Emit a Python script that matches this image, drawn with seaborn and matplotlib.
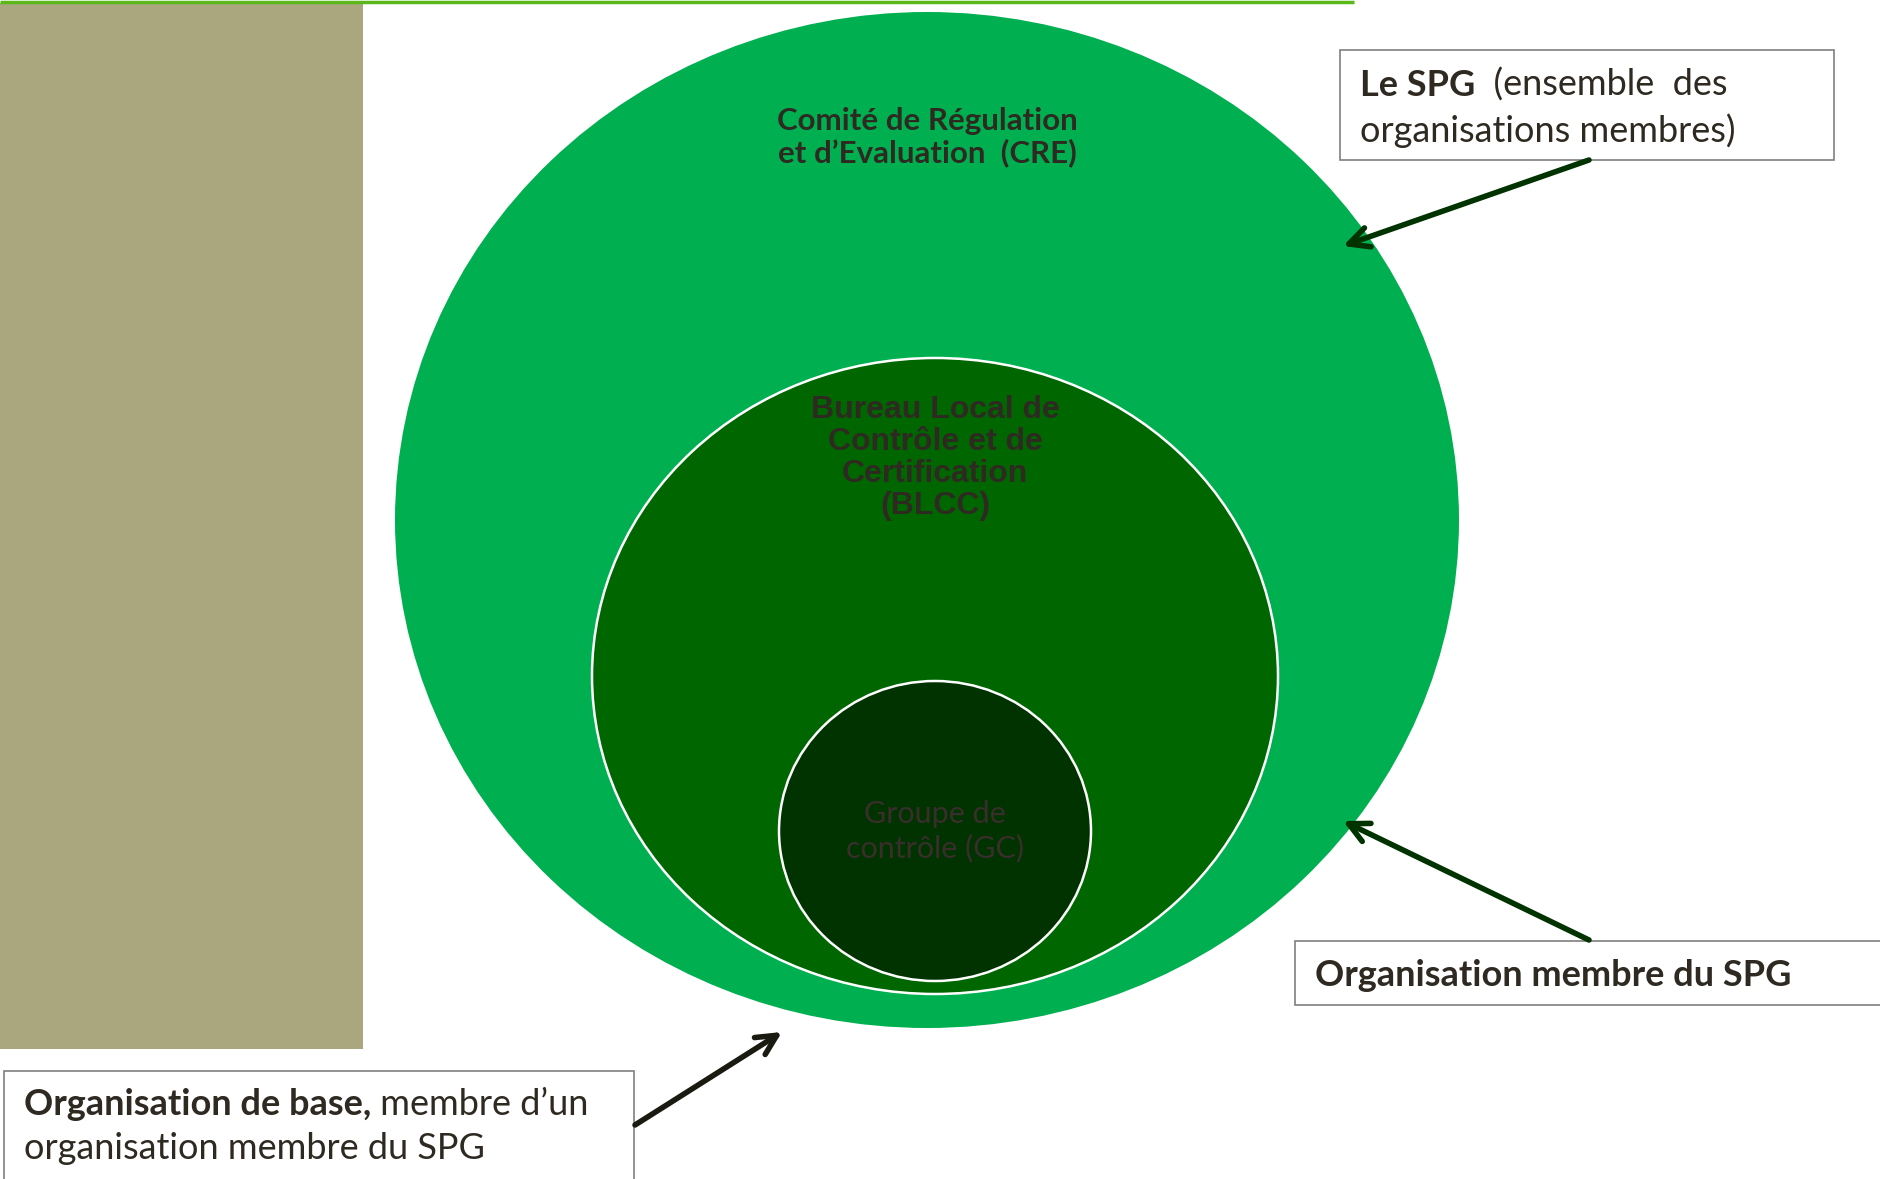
import matplotlib
matplotlib.use("Agg")
import matplotlib.pyplot as plt
from matplotlib.patches import Ellipse, Rectangle
import seaborn as sns

sns.set_theme(style="white")
plt.rcParams['font.family'] = ['Lato', 'DejaVu Sans']

# les trois niveaux (du plus grand au plus petit)
niveaux = ["CRE", "BLCC", "GC"]
niveau_labels = [
    "Comité de Régulation\net d’Evaluation  (CRE)",
    "Bureau Local de\nContrôle et de\nCertification\n(BLCC)",
    "Groupe de\ncontrôle (GC)",
]
niveau_couleurs = ["#00AF50", "#006600", "#003300"]

# cadres d'annotation : partie en gras, suite normale
cadre_gras = ["Le SPG", "Organisation membre du SPG", "Organisation de base,"]
cadre_suite = ["  (ensemble  des\norganisations membres)", "", " membre d’un\norganisation membre du SPG"]

fig = plt.figure(figsize=(18.8, 11.79), dpi=100)
ax = fig.add_axes([0, 0, 1, 1])
ax.set_xlim(0, 1880)
ax.set_ylim(1179, 0)
ax.axis("off")

# bande de gauche et ligne verte en haut
ax.add_patch(Rectangle((0, 3), 363, 1046, color="#AAA77F", lw=0))
ax.plot([0, 1354], [1.5, 1.5], color="#5BB81A", lw=2.5, solid_capstyle="butt")

# ellipses imbriquées
geom = [((927, 520), 1064, 1016), ((935, 676), 686, 636), ((935, 831), 312, 300)]
for (c, w, h), col, i in zip(geom, niveau_couleurs, range(3)):
    ec = "none" if i == 0 else "white"
    ax.add_patch(Ellipse(c, w, h, facecolor=col, edgecolor=ec, lw=1.8))

ax.text(927, 137, niveau_labels[0], ha="center", va="center", fontsize=22.5,
        fontweight="bold", color="#2E2A22", linespacing=1.15)
ax.text(935, 458, niveau_labels[1], ha="center", va="center", fontsize=23,
        fontweight="bold", color="#2E2A22", family="Liberation Sans", linespacing=1.08)
ax.text(935, 831, niveau_labels[2], ha="center", va="center", fontsize=22,
        color="#3A2E2C", linespacing=1.25)

# cadres
boites = [(1340, 50, 494, 110), (1295, 941, 590, 64), (4, 1071, 630, 115)]
pos_texte = [(1360, 69), (1315, 959), (24, 1088)]
for (x, y, w, h) in boites:
    ax.add_patch(Rectangle((x, y), w, h, facecolor="white", edgecolor="#7F7F7F", lw=1.2))

for (tx, ty), g, s in zip(pos_texte, cadre_gras, cadre_suite):
    lines = s.split("\n")
    t = ax.text(tx, ty, g, ha="left", va="top", fontsize=26, fontweight="bold",
                color="#2E2A22")
    if lines[0]:
        ax.annotate(lines[0], xy=(1, 0), xycoords=t, ha="left", va="bottom",
                    fontsize=26, color="#2E2A22")
    if len(lines) > 1:
        ax.text(tx, ty + 44, lines[1], ha="left", va="top", fontsize=26, color="#2E2A22")

# flèches
fleches = [((1589, 160), (1343, 246), "#003300"),
           ((1589, 940), (1343, 821), "#003300"),
           ((635, 1125), (782, 1032), "#1A1A10")]
for start, end, col in fleches:
    ax.annotate("", xy=end, xytext=start,
                arrowprops=dict(arrowstyle="->,head_length=1.2,head_width=0.6",
                                color=col, lw=4, shrinkA=0, shrinkB=0))

fig.savefig("out.png", dpi=100)
